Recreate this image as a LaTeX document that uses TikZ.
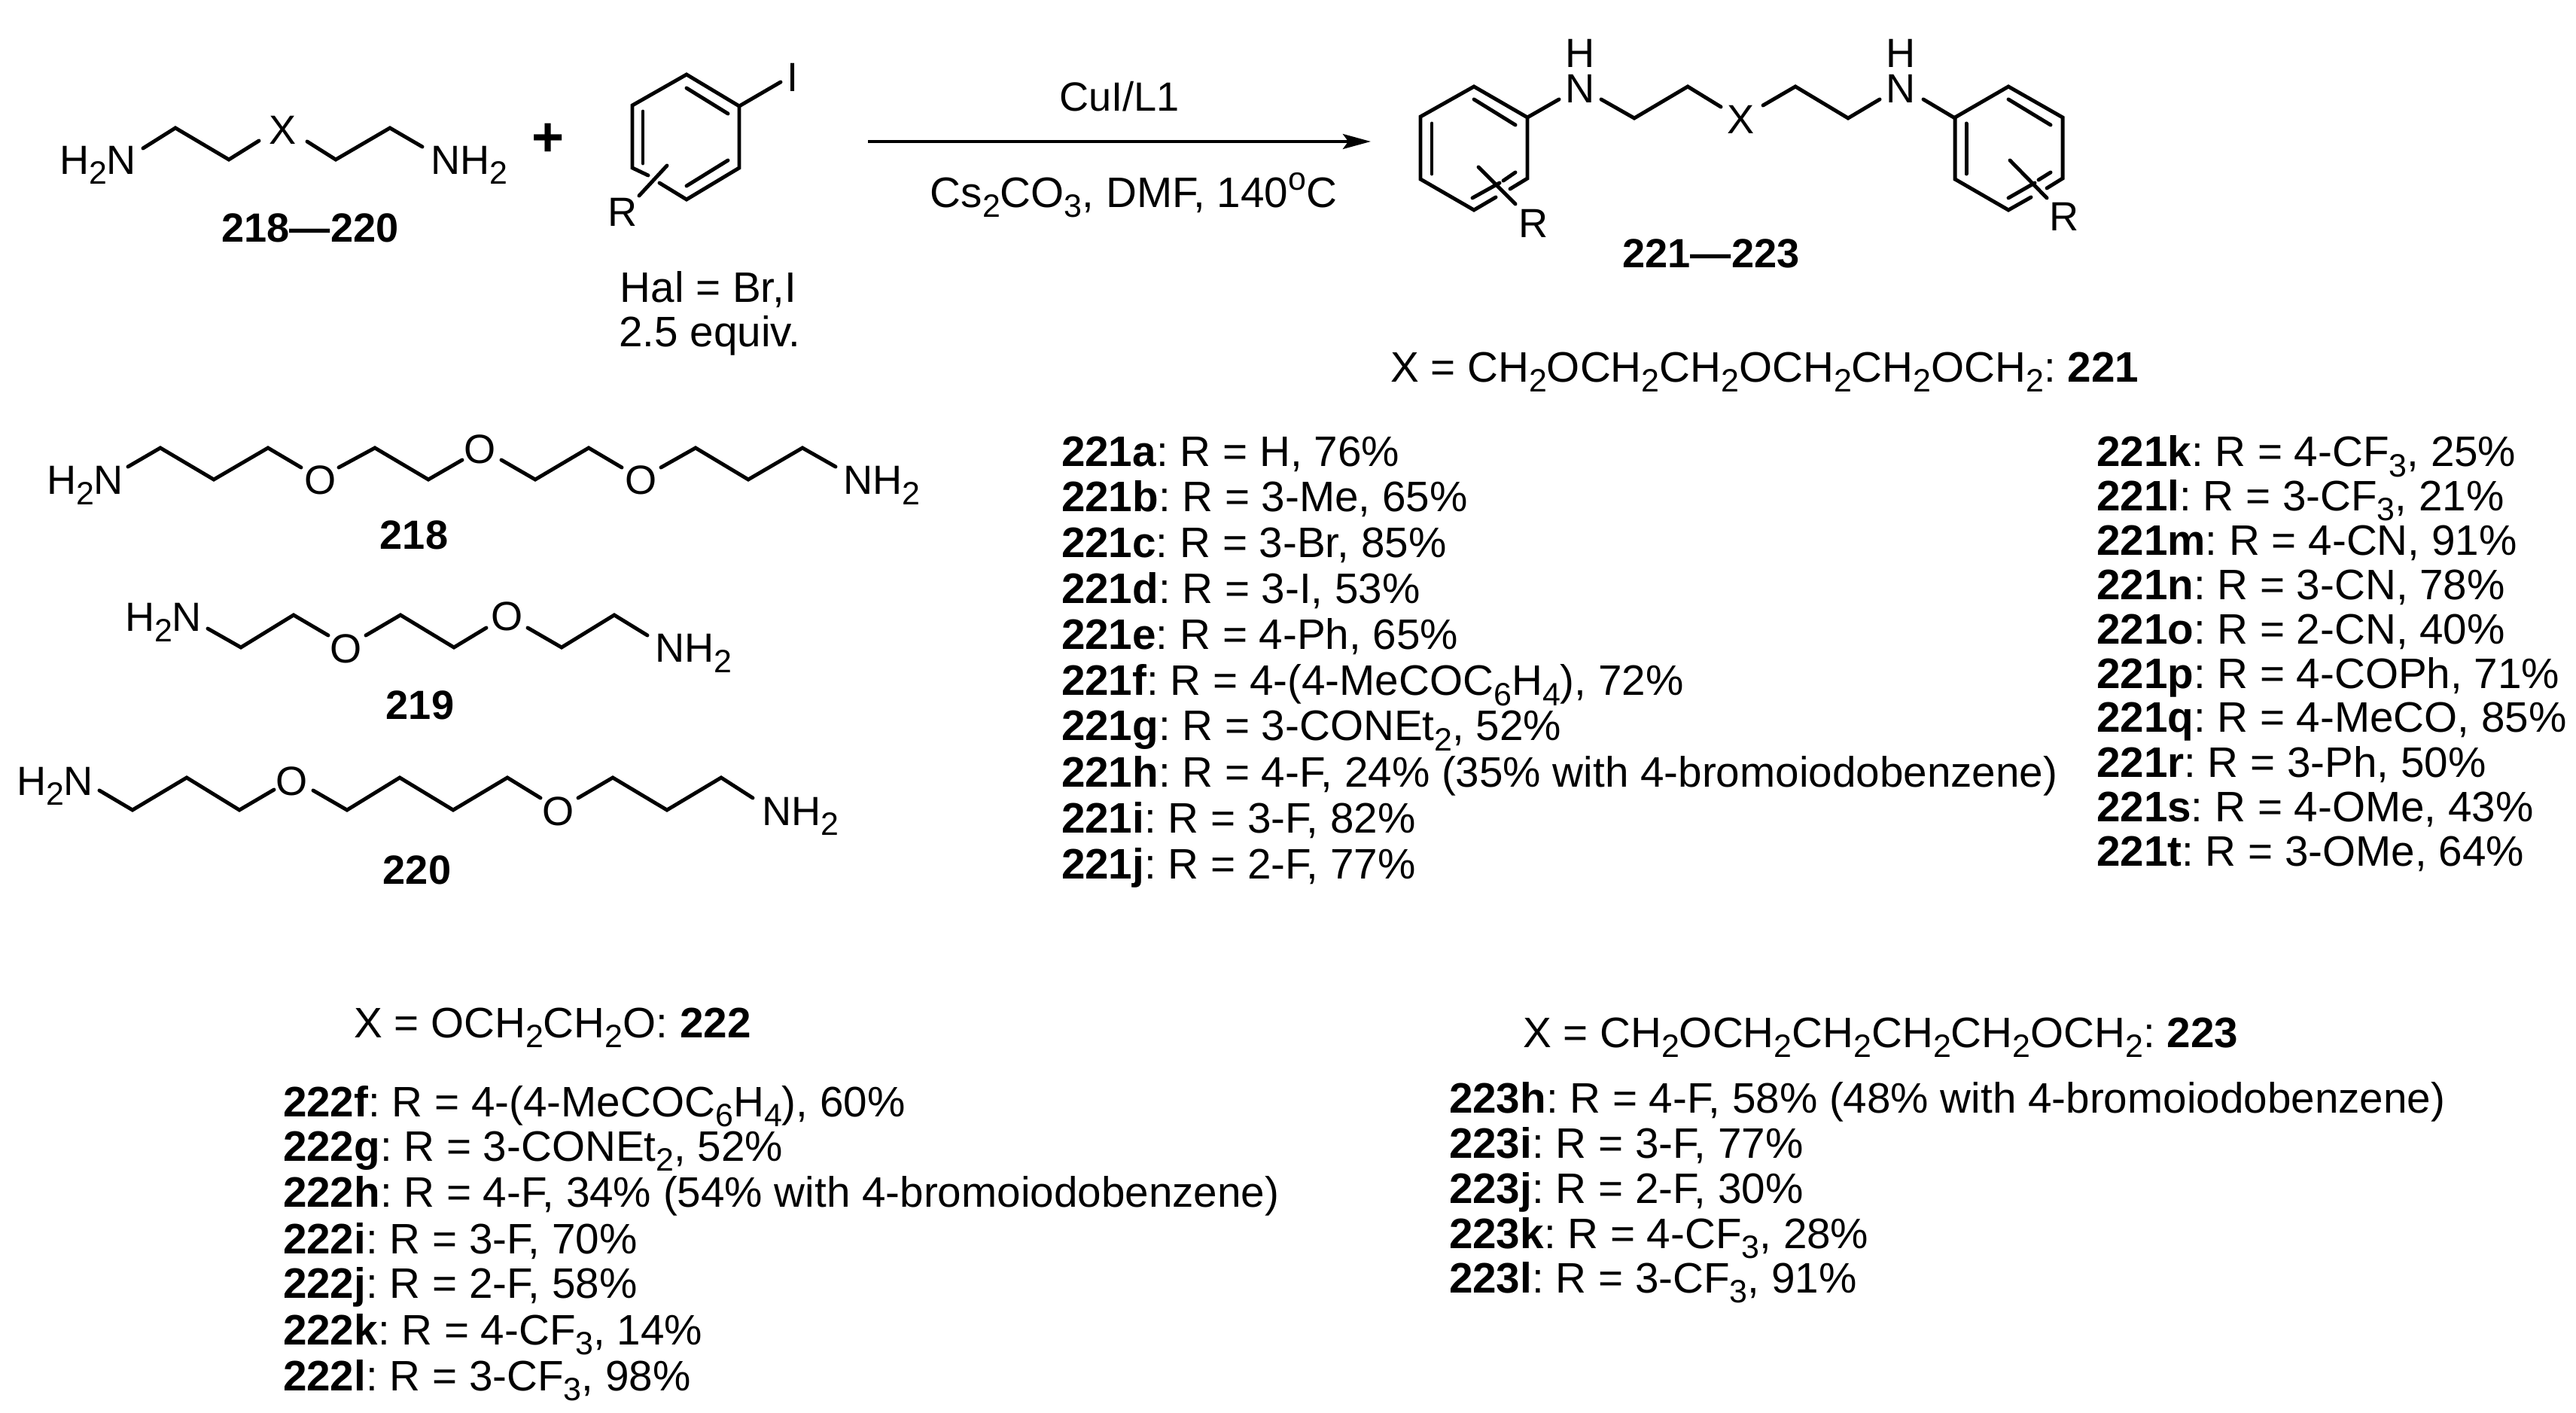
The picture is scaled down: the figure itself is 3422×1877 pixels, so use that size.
\documentclass[tikz,border=0pt]{standalone}
\usepackage{fontspec}
\setmainfont{Liberation Sans}
\usetikzlibrary{arrows.meta}
\newcommand{\sbs}[1]{\raisebox{-0.13cm}{\fontsize{12.2}{12}\selectfont #1}}
\newcommand{\sps}[1]{\raisebox{0.23cm}{\fontsize{12.2}{12}\selectfont #1}}
\newcommand{\ttt}[4]{\node[lbl,anchor=base west] (#1) at (#2,#3) {#4};}
\newcommand{\ccc}[4]{\node[lbl,anchor=base] (#1) at (#2,#3) {#4};}
\newcommand{\tcc}[4]{\node[txtl,anchor=base] (#1) at (#2,#3) {#4};}
\newcommand{\tww}[4]{\node[txtl,anchor=base west] (#1) at (#2,#3) {#4};}
\newcommand{\itm}[5]{\node[txtl,anchor=base west] (#1) at (#2,#3) {\textbf{#4}: #5};}
\tikzset{
  lbl/.style={inner sep=0pt,outer sep=0pt,font=\fontsize{15.4}{18}\selectfont\frenchspacing,text=black},
  txtl/.style={inner sep=0pt,outer sep=0pt,font=\fontsize{16.1}{18}\selectfont\frenchspacing,text=black},
  bond/.style={line width=1.4pt,line cap=round,line join=miter,black},
  rxn/.style={line width=1.4pt,black,-{Stealth[length=10.5pt,width=5.6pt,inset=2pt]}}
}
\begin{document}
\begin{tikzpicture}[x=0.01cm,y=-0.01cm]
\useasboundingbox (0,0) rectangle (3422,1877);
% --- diamine general
\ttt{gA}{79}{232}{H\sbs{2}N}
\ttt{gB}{572}{232}{NH\sbs{2}}
\ccc{gX}{376}{192}{X}
\draw[bond] (190,197)--(233,170)--(304,212)--(344,187);
\draw[bond] (408,188)--(446,212)--(518,170)--(561,195);
\ccc{lab2}{412}{322}{\textbf{218—220}}
\node[lbl,anchor=center,font=\fontsize{21}{21}\selectfont\bfseries] (plus) at (728,186) {+};
% --- aryl iodide
\draw[bond] (861,233)--(840,223)--(840,140)--(912,99)--(982,141)--(982,223)--(912,265)--(876,243);
\draw[bond] (912,117)--(967,151);
\draw[bond] (854,148)--(854,217);
\draw[bond] (912,247)--(967,213);
\draw[bond] (982,141)--(1037,109);
\draw[bond] (886,220)--(849,260);
\ccc{iI}{1053}{122}{I}
\ccc{iR}{827}{301}{R}
\tcc{hal}{941}{402}{Hal = Br,I}
\tcc{eq}{943}{461}{2.5 equiv.}
% --- arrow
\coordinate (arrS) at (1153,188);
\coordinate (arrE) at (1821,188);
\draw[rxn] (arrS)--(arrE);
\ccc{cu}{1487}{148}{CuI/L1}
\tcc{cs}{1506}{276}{Cs\sbs{2}CO\sbs{3}, DMF, 140\sps{o}C}
% --- product
\draw[bond] (2006,251)--(2029,237)--(2029,156)--(1958,115)--(1887,155)--(1887,238)--(1958,279)--(1987,262);
\draw[bond] (1958,132)--(2013,166);
\draw[bond] (1902,164)--(1902,231);
\draw[bond] (1956,263)--(1992,243);
\draw[bond] (1997,240)--(2013,229);
\draw[bond] (1964,222)--(2013,271);
\ccc{pR1}{2037}{316}{R}
\draw[bond] (2029,156)--(2071,132);
\ccc{pN1}{2099}{137}{N}
\ccc{pH1}{2099}{90}{H}
\draw[bond] (2127,132)--(2171,157)--(2242,115)--(2286,142);
\ccc{pX}{2313}{178}{X}
\draw[bond] (2342,140)--(2385,115)--(2455,157)--(2497,132);
\ccc{pN2}{2525}{137}{N}
\ccc{pH2}{2525}{90}{H}
\draw[bond] (2555,132)--(2597,157);
\draw[bond] (2719,250)--(2740,237)--(2740,156)--(2668,115)--(2597,156)--(2597,238)--(2668,279)--(2698,262);
\draw[bond] (2668,132)--(2724,166);
\draw[bond] (2612,164)--(2612,231);
\draw[bond] (2668,263)--(2703,243);
\draw[bond] (2708,239)--(2724,229);
\draw[bond] (2670,213)--(2719,263);
\ccc{pR2}{2742}{307}{R}
\ccc{lab3}{2273}{356}{\textbf{221—223}}
% --- 218
\ttt{aA}{62}{657}{H\sbs{2}N}
\draw[bond] (170,620)--(213,595)--(284,637)--(356,595)--(400,621);
\ccc{aO1}{426}{657}{O}
\draw[bond] (450,621)--(498,595)--(569,637)--(614,611);
\ccc{aO2}{638}{616}{O}
\draw[bond] (666,611)--(711,637)--(782,595)--(826,621);
\ccc{aO3}{852}{657}{O}
\draw[bond] (878,621)--(924,595)--(994,637)--(1066,595)--(1110,620);
\ttt{aB}{1120}{657}{NH\sbs{2}}
\ccc{l218}{550}{730}{\textbf{218}}
% --- 219
\ttt{bA}{166}{839}{H\sbs{2}N}
\draw[bond] (276,835)--(320,860)--(390,817)--(436,844);
\ccc{bO1}{460}{881}{O}
\draw[bond] (486,844)--(532,817)--(603,860)--(646,834);
\ccc{bO2}{674}{838}{O}
\draw[bond] (701,834)--(746,860)--(816,817)--(860,844);
\ttt{bB}{870}{880}{NH\sbs{2}}
\ccc{l219}{558}{956}{\textbf{219}}
% --- 220
\ttt{cA}{22}{1056}{H\sbs{2}N}
\draw[bond] (132,1050)--(176,1076)--(248,1033)--(318,1076)--(364,1049);
\ccc{cO1}{388}{1056}{O}
\draw[bond] (416,1050)--(461,1076)--(531,1033)--(602,1076)--(674,1033)--(718,1060);
\ccc{cO2}{742}{1096}{O}
\draw[bond] (768,1060)--(814,1033)--(886,1076)--(958,1033)--(1000,1060);
\ttt{cB}{1012}{1096}{NH\sbs{2}}
\ccc{l220}{554}{1174}{\textbf{220}}
% --- 221 list
\tww{x221}{1847}{508}{X = CH\sbs{2}OCH\sbs{2}CH\sbs{2}OCH\sbs{2}CH\sbs{2}OCH\sbs{2}: \textbf{221}}
\itm{a}{1410}{620}{221a}{R = H, 76\%}
\itm{b}{1410}{680}{221b}{R = 3-Me, 65\%}
\itm{c}{1410}{741}{221c}{R = 3-Br, 85\%}
\itm{d}{1410}{802}{221d}{R = 3-I, 53\%}
\itm{e}{1410}{863}{221e}{R = 4-Ph, 65\%}
\itm{f}{1410}{924}{221f}{R = 4-(4-MeCOC\sbs{6}H\sbs{4}), 72\%}
\itm{g}{1410}{984}{221g}{R = 3-CONEt\sbs{2}, 52\%}
\itm{h}{1410}{1045}{221h}{R = 4-F, 24\% (35\% with 4-bromoiodobenzene)}
\itm{i}{1410}{1106}{221i}{R = 3-F, 82\%}
\itm{j}{1410}{1167}{221j}{R = 2-F, 77\%}
\itm{k}{2785}{620}{221k}{R = 4-CF\sbs{3}, 25\%}
\itm{l}{2785}{679}{221l}{R = 3-CF\sbs{3}, 21\%}
\itm{m}{2785}{738}{221m}{R = 4-CN, 91\%}
\itm{n}{2785}{797}{221n}{R = 3-CN, 78\%}
\itm{o}{2785}{856}{221o}{R = 2-CN, 40\%}
\itm{p}{2785}{915}{221p}{R = 4-COPh, 71\%}
\itm{q}{2785}{973}{221q}{R = 4-MeCO, 85\%}
\itm{r}{2785}{1032}{221r}{R = 3-Ph, 50\%}
\itm{s}{2785}{1091}{221s}{R = 4-OMe, 43\%}
\itm{t}{2785}{1150}{221t}{R = 3-OMe, 64\%}
% --- 222 list
\tww{x222}{470}{1378}{X = OCH\sbs{2}CH\sbs{2}O: \textbf{222}}
\itm{ef}{376}{1483}{222f}{R = 4-(4-MeCOC\sbs{6}H\sbs{4}), 60\%}
\itm{eg}{376}{1542}{222g}{R = 3-CONEt\sbs{2}, 52\%}
\itm{eh}{376}{1603}{222h}{R = 4-F, 34\% (54\% with 4-bromoiodobenzene)}
\itm{ei}{376}{1665}{222i}{R = 3-F, 70\%}
\itm{ej}{376}{1724}{222j}{R = 2-F, 58\%}
\itm{ek}{376}{1786}{222k}{R = 4-CF\sbs{3}, 14\%}
\itm{el}{376}{1847}{222l}{R = 3-CF\sbs{3}, 98\%}
% --- 223 list
\tww{x223}{2023}{1391}{X = CH\sbs{2}OCH\sbs{2}CH\sbs{2}CH\sbs{2}CH\sbs{2}OCH\sbs{2}: \textbf{223}}
\itm{th}{1925}{1478}{223h}{R = 4-F, 58\% (48\% with 4-bromoiodobenzene)}
\itm{ti}{1925}{1538}{223i}{R = 3-F, 77\%}
\itm{tj}{1925}{1598}{223j}{R = 2-F, 30\%}
\itm{tk}{1925}{1658}{223k}{R = 4-CF\sbs{3}, 28\%}
\itm{tl}{1925}{1717}{223l}{R = 3-CF\sbs{3}, 91\%}
\end{tikzpicture}
\end{document}
